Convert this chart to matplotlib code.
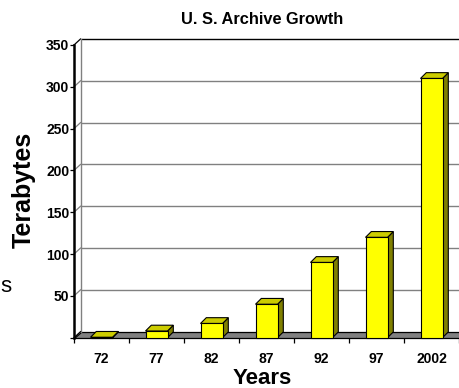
import matplotlib
matplotlib.use("Agg")
import matplotlib.pyplot as plt
from matplotlib.patches import Polygon
import numpy as np

# ---- data ----
years = ["72", "77", "82", "87", "92", "97", "2002"]
terabytes = [0.5, 8, 17, 40, 90, 120, 310]
y_ticks = [0, 50, 100, 150, 200, 250, 300, 350]
y_tick_labels = ["", "50", "100", "150", "200", "250", "300", "350"]
title = "U. S. Archive Growth"
x_label = "Years"
y_label = "Terabytes"

plt.rcParams['font.family'] = ['Liberation Sans', 'DejaVu Sans']

W, H = 459, 388
fig = plt.figure(figsize=(W / 100, H / 100), dpi=100)
fig.patch.set_facecolor('white')

# front plane of the 3D plot, in pixels
left_px, right_px = 74, 459
bottom_px, top_px = 337.7, 45
ax = fig.add_axes([left_px / W, 1 - bottom_px / H,
                   (right_px - left_px) / W, (bottom_px - top_px) / H])
n = len(years)
ax.set_xlim(-0.5, n - 0.5)
ax.set_ylim(0, 350)
ax.set_facecolor('none')
for s in ax.spines.values():
    s.set_visible(False)

px_per_cat = (right_px - left_px) / n
px_per_val = (bottom_px - top_px) / 350.0
# depth of the wall/floor and of the bars (in data units)
dxw, dyw = 6.5 / px_per_cat, 6.0 / px_per_val
dxb, dyb = 5.8 / px_per_cat, 5.8 / px_per_val

x0 = -0.5
xr = n + 1.0  # beyond figure edge
grid_c = '#808080'

# floor
floor = Polygon([(x0, 0), (xr, 0), (xr, dyw), (x0 + dxw, dyw)],
                closed=True, facecolor='#808080', edgecolor='black',
                lw=0.9, clip_on=False, zorder=1)
ax.add_patch(floor)

# back-wall gridlines and side-wall diagonals
for v in y_ticks[1:]:
    c = 'black' if v == y_ticks[-1] else grid_c
    ax.plot([x0 + dxw, xr], [v + dyw, v + dyw], color=c, lw=1.0,
            clip_on=False, zorder=1, solid_capstyle='butt')
    ax.plot([x0, x0 + dxw], [v, v + dyw], color=c if v != y_ticks[-1] else 'black',
            lw=0.9, clip_on=False, zorder=1)

# left wall edges
ax.plot([x0 + dxw, x0 + dxw], [dyw, y_ticks[-1] + dyw], color=grid_c, lw=1.0,
        clip_on=False, zorder=1)
ax.plot([x0, x0], [0, y_ticks[-1]], color='black', lw=1.8,
        clip_on=False, zorder=3)
ax.plot([x0, x0 + dxw], [0, dyw], color='black', lw=0.9, clip_on=False, zorder=2)

# bars (3D look)
xs = np.arange(n)
bw = 0.4
front_c, top_c, side_c = '#FFFF00', '#CCCC00', '#808000'
for x, v in zip(xs, terabytes):
    top = Polygon([(x - bw / 2, v), (x + bw / 2, v),
                   (x + bw / 2 + dxb, v + dyb), (x - bw / 2 + dxb, v + dyb)],
                  closed=True, facecolor=top_c, edgecolor='black', lw=0.8,
                  clip_on=False, zorder=4)
    side = Polygon([(x + bw / 2, 0), (x + bw / 2 + dxb, dyb),
                    (x + bw / 2 + dxb, v + dyb), (x + bw / 2, v)],
                   closed=True, facecolor=side_c, edgecolor='black', lw=0.8,
                   clip_on=False, zorder=4)
    ax.add_patch(side)
    ax.add_patch(top)
ax.bar(xs, terabytes, width=bw, color=front_c, edgecolor='black', lw=0.8,
       zorder=5, clip_on=False)

# ticks
ax.set_yticks(y_ticks)
ax.set_yticklabels(y_tick_labels, fontsize=10, fontweight='bold')
ax.tick_params(axis='y', direction='out', length=3, width=0.9, pad=0.5,
               colors='black')
ax.set_xticks(np.arange(-0.5, n, 1.0))
ax.set_xticklabels([])
ax.set_xticks(xs, minor=True)
ax.set_xticklabels(years, minor=True, fontsize=10, fontweight='bold')
ax.tick_params(axis='x', which='major', direction='out', length=3.5, width=0.9)
ax.tick_params(axis='x', which='minor', length=0, pad=10)

# texts
fig.text(262 / W, 1 - 19 / H, title, ha='center', va='center',
         fontsize=11.8, fontweight='bold')
fig.text(262 / W, 1 - 379 / H, x_label, ha='center', va='center',
         fontsize=16, fontweight='bold')
fig.text(24 / W, 1 - 190 / H, y_label, ha='center', va='center',
         rotation=90, fontsize=18, fontweight='bold')
fig.text(0 / W, 1 - 286 / H, "s", ha='left', va='center', fontsize=16)

fig.savefig("out.png", dpi=100, facecolor='white')
